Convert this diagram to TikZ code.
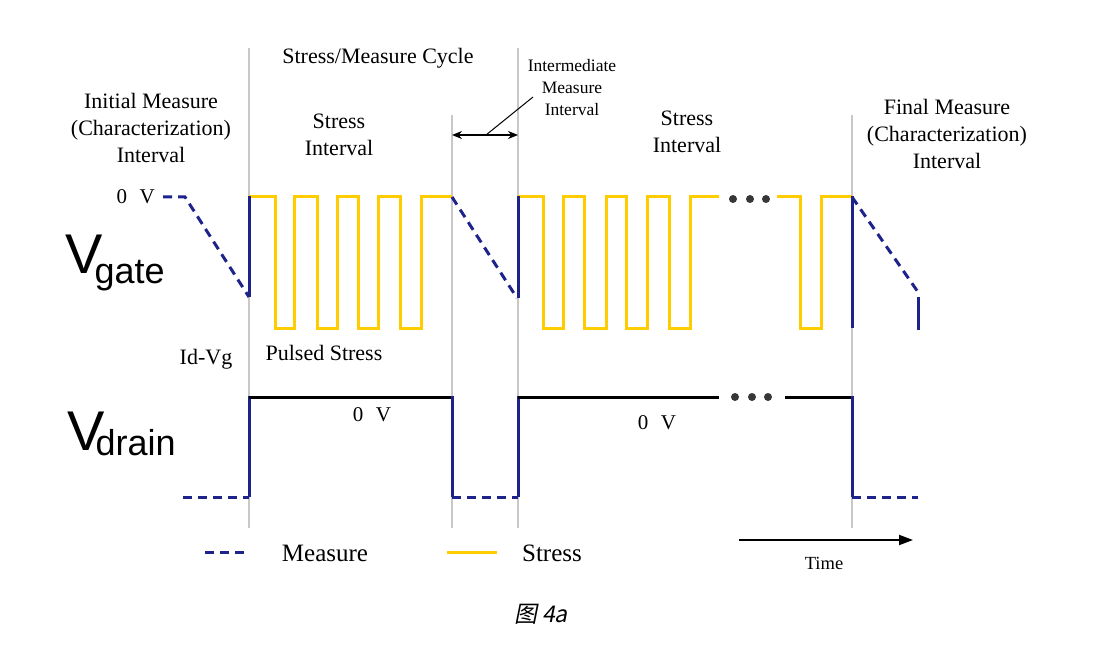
\documentclass[tikz,border=0pt]{standalone}
\usepackage{fontspec}
\setmainfont{Liberation Serif}
\newfontfamily\arialf{Liberation Sans}
\newfontfamily\cjkit[FakeSlant=0.2]{Noto Sans CJK SC}
\usetikzlibrary{arrows.meta}
\definecolor{mblue}{RGB}{30,35,140}
\definecolor{syellow}{RGB}{255,204,0}
\definecolor{gline}{RGB}{200,200,200}
\definecolor{dotc}{RGB}{55,55,55}
\begin{document}
\begin{tikzpicture}[x=1pt,y=-1pt,
  gridl/.style={draw=gline,line width=1.4pt},
  meas/.style={draw=mblue,line width=3pt,dash pattern=on 9pt off 6pt},
  msolid/.style={draw=mblue,line width=3pt},
  stressw/.style={draw=syellow,line width=3pt,line join=miter},
  zerov/.style={draw=black,line width=3pt},
  dotn/.style={circle,fill=dotc,inner sep=0pt,minimum size=8pt},
  lbl/.style={inner sep=0pt,align=center,font=\fontsize{22}{27}\selectfont},
  smalllbl/.style={inner sep=0pt,align=center,font=\fontsize{17.5}{22}\selectfont},
  leglbl/.style={inner sep=0pt,font=\fontsize{25}{30}\selectfont},
  biglbl/.style={inner sep=0pt,anchor=base west,font=\fontsize{56}{56}\arialf}]
\useasboundingbox (0,0) rectangle (1096,650);

% interval boundaries
\draw[gridl] (249,48) -- (249,528);
\draw[gridl] (452,115) -- (452,528);
\draw[gridl] (518,48) -- (518,528);
\draw[gridl] (852,115) -- (852,528);

% gate waveform
\draw[stressw] (249,197) -| (275,328) -| (294,197) -| (317,328) -| (337,197) -| (358,328) -| (378,197) -| (400,328) -| (421,197) -- (452,197);
\draw[stressw] (518,197) -| (543,328) -| (563,197) -| (584,328) -| (606,197) -| (626,328) -| (647,197) -| (669,328) -| (690,197) -- (719,197);
\draw[stressw] (777,197) -| (800,328) -| (821,197) -- (852,197);
\draw[meas] (163,197) -- (185,197) -- (249,297);
\draw[msolid] (249,297) -- (249,196);
\draw[meas] (452,197) -- (517,298);
\draw[msolid] (518,298) -- (518,196);
\draw[msolid] (852,328) -- (852,196);
\draw[meas] (852,197) -- (918,292);
\draw[msolid] (918,297) -- (918,330);
\node[dotn] (gd1) at (733,199) {};
\node[dotn] (gd2) at (750,199) {};
\node[dotn] (gd3) at (766,199) {};

% drain waveform
\draw[meas] (183,497) -- (249,497);
\draw[msolid] (249,497) -- (249,396);
\draw[zerov] (249,397) -- (452,397);
\draw[msolid] (452,396) -- (452,497);
\draw[meas] (452,497) -- (518,497);
\draw[msolid] (518,497) -- (518,396);
\draw[zerov] (518,397) -- (719,397);
\draw[zerov] (785,397) -- (852,397);
\draw[msolid] (852,396) -- (852,497);
\draw[meas] (852,497) -- (918,497);
\node[dotn] (dd1) at (735,397) {};
\node[dotn] (dd2) at (752,397) {};
\node[dotn] (dd3) at (768,397) {};

% labels
\node[lbl] (cyc) at (378,58) {Stress/Measure Cycle};
\node[lbl] (init) at (151,128) {Initial Measure\\(Characterization)\\Interval};
\node[lbl] (st1) at (339,135) {Stress\\Interval};
\node[smalllbl] (imi) at (572,88) {Intermediate\\Measure\\Interval};
\node[lbl] (st2) at (687,132) {Stress\\Interval};
\node[lbl] (fin) at (947,134) {Final Measure\\(Characterization)\\Interval};
\node[lbl,anchor=east,font=\fontsize{21}{26}\selectfont] (zv) at (155,197) {0\hspace{0.6em}V};
\node[lbl] (idvg) at (206,359) {Id-Vg};
\node[lbl] (pulsed) at (324,353) {Pulsed Stress};
\node[lbl,font=\fontsize{21}{26}\selectfont] (zv1) at (372,415) {0\hspace{0.6em}V};
\node[lbl,font=\fontsize{21}{26}\selectfont] (zv2) at (657,423) {0\hspace{0.6em}V};

\node[biglbl] (vg) at (65,273) {V\kern-8pt\raisebox{-10pt}{\fontsize{36}{36}\selectfont gate}};
\node[biglbl] (vd) at (67,450) {V\kern-9pt\raisebox{-5pt}{\fontsize{36}{36}\selectfont drain}};

% intermediate interval arrow
\coordinate (ial) at (452,135);
\coordinate (iar) at (518,135);
\coordinate (iam) at (486,135);
\coordinate (iat) at (533,97);
\draw[line width=1.3pt,{Stealth[length=10pt,width=8pt]}-{Stealth[length=10pt,width=8pt]}] (ial) -- (iar);
\draw[line width=1pt] (iam) -- (iat);

% legend
\coordinate (lm1) at (205,552);
\coordinate (lm2) at (245,552);
\draw[meas] (lm1) -- (lm2);
\node[leglbl] (lmeas) at (325,553) {Measure};
\coordinate (ls1) at (447,552);
\coordinate (ls2) at (497,552);
\draw[stressw] (ls1) -- (ls2);
\node[leglbl] (lstr) at (552,553) {Stress};
\coordinate (t1) at (739,540);
\coordinate (t2) at (913,540);
\draw[line width=2pt,-{Triangle[length=14pt,width=10pt]}] (t1) -- (t2);
\node[inner sep=0pt,font=\fontsize{18.5}{22}\selectfont] (time) at (824,563) {Time};

\node[inner sep=0pt,font=\fontsize{23}{26}\cjkit] (cap) at (541,614) {图 4a};
\end{tikzpicture}
\end{document}
